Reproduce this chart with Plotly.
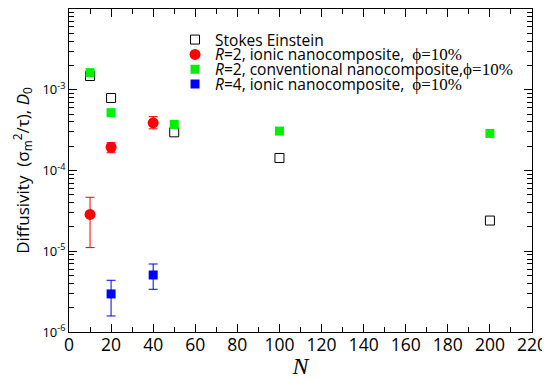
import plotly.graph_objects as go

# ---- data ----
N_se = [10, 20, 50, 100, 200]
D_se = [1.48e-3, 7.9e-4, 2.97e-4, 1.43e-4, 2.4e-5]

N_r2_ionic = [10, 20, 40]
D_r2_ionic = [2.86e-5, 1.94e-4, 3.9e-4]
hi_r2_ionic = [4.66e-5, 2.21e-4, 4.65e-4]
lo_r2_ionic = [1.11e-5, 1.66e-4, 3.28e-4]

N_r2_conv = [10, 20, 50, 100, 200]
D_r2_conv = [1.63e-3, 5.2e-4, 3.73e-4, 3.08e-4, 2.88e-4]

N_r4_ionic = [20, 40]
D_r4_ionic = [2.96e-6, 5.08e-6]
hi_r4_ionic = [4.37e-6, 6.95e-6]
lo_r4_ionic = [1.58e-6, 3.38e-6]

y_tickvals = [1e-6, 1e-5, 1e-4, 1e-3, 1e-2]
y_ticktext = ["10<sup>-6</sup>", "10<sup>-5</sup>", "10<sup>-4</sup>", "10<sup>-3</sup>", "10<sup>-2</sup>"]
y_minor_vals = [k * 10.0 ** e for e in range(-6, -2) for k in range(2, 10)]

SERIF = "Liberation Serif"
SANS = "Open Sans"
phi = "<span style='font-family:Liberation Serif;font-size:17px'>ϕ=10%</span>"

names = [
    "Stokes Einstein",
    "<i>R</i>=2, ionic nanocomposite,  " + phi,
    "<i>R</i>=2, conventional nanocomposite," + phi,
    "<i>R</i>=4, ionic nanocomposite,  " + phi,
]

def plus(v, hi):
    return [h - a for a, h in zip(v, hi)]

def minus(v, lo):
    return [a - l for a, l in zip(v, lo)]

fig = go.Figure()
fig.add_trace(go.Scatter(
    x=N_se, y=D_se, mode="markers", name=names[0], legend="legend",
    marker=dict(symbol="square-open", size=9, color="black", line=dict(width=1, color="black")),
))
fig.add_trace(go.Scatter(
    x=N_r2_ionic, y=D_r2_ionic, mode="markers", name=names[1], legend="legend2",
    marker=dict(symbol="circle", size=11, color="#ff0000"),
    error_y=dict(type="data", symmetric=False, array=plus(D_r2_ionic, hi_r2_ionic),
                 arrayminus=minus(D_r2_ionic, lo_r2_ionic), color="#ff0000", thickness=1, width=4.5),
))
fig.add_trace(go.Scatter(
    x=N_r2_conv, y=D_r2_conv, mode="markers", name=names[2], legend="legend3",
    marker=dict(symbol="square", size=9, color="#00f000"),
))
fig.add_trace(go.Scatter(
    x=N_r4_ionic, y=D_r4_ionic, mode="markers", name=names[3], legend="legend4",
    marker=dict(symbol="square", size=9, color="#0000ff"),
    error_y=dict(type="data", symmetric=False, array=plus(D_r4_ionic, hi_r4_ionic),
                 arrayminus=minus(D_r4_ionic, lo_r4_ionic), color="#0000ff", thickness=1, width=4.5),
))

leg_common = dict(x=0.229, xanchor="left", yanchor="middle", bgcolor="rgba(0,0,0,0)",
                  font=dict(family=SANS, size=15.5, color="black"), borderwidth=0,
                  itemsizing="trace")
row_px = 14.8
y0 = (323 - 31) / 323
fig.update_layout(
    legend=dict(y=y0, **leg_common),
    legend2=dict(y=y0 - row_px / 323, **leg_common),
    legend3=dict(y=y0 - 2 * row_px / 323, **leg_common),
    legend4=dict(y=y0 - 3 * row_px / 323, **leg_common),
)

axis_common = dict(showline=True, linecolor="black", linewidth=1, mirror="allticks",
                   ticks="inside", tickcolor="black", tickwidth=1, ticklen=8,
                   showgrid=False, zeroline=False, automargin=False)

fig.update_xaxes(
    range=[0, 220], dtick=20, tick0=0,
    tickfont=dict(family=SANS, size=17.5, color="black"),
    ticklabelstandoff=-3,
    minor=dict(dtick=10, ticks="inside", ticklen=5, tickcolor="black", tickwidth=1, showgrid=False),
    title=dict(text="<i>N</i>", font=dict(family=SERIF, size=24, color="black"), standoff=0),
    **axis_common,
)
fig.update_yaxes(
    type="log", range=[-6, -2], tickvals=y_tickvals, ticktext=y_ticktext,
    tickfont=dict(family=SANS, size=13, color="black"),
    minor=dict(tickvals=y_minor_vals, ticks="inside", ticklen=5, tickcolor="black", tickwidth=1, showgrid=False),
    title=dict(text="Diffusivity  (σ<sub>m</sub><sup>2</sup>/τ), <i>D</i><sub>0</sub>",
               font=dict(family=SANS, size=17, color="black"), standoff=8),
    **axis_common,
)

# page body has an 8px margin, so the figure is drawn 8px smaller and offset
fig.update_layout(
    width=542, height=371,
    margin=dict(l=61, r=18, t=1, b=47),
    plot_bgcolor="white", paper_bgcolor="white",
    showlegend=True,
)

fig.write_html("out.html")
